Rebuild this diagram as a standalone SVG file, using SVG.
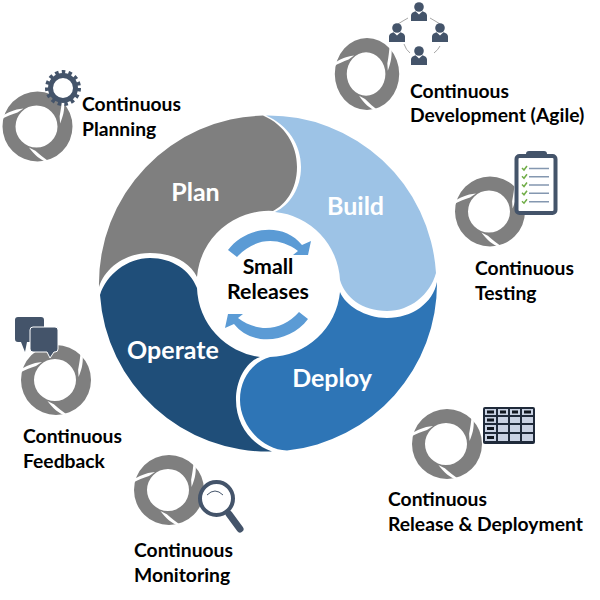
<svg xmlns="http://www.w3.org/2000/svg" width="600" height="600" viewBox="0 0 600 600">
<style>
text{font-family:"Lato","Liberation Sans",sans-serif;font-weight:700}
.lbl{font-size:19.300px;fill:#000}
.seg{font-size:25px;fill:#fff;text-anchor:middle}
.ctr{font-size:21.300px;fill:#000;text-anchor:middle}
.dk{fill:#44546a}
</style>
<defs>
<g id="ring">
<path fill="#7f7f7f" fill-rule="evenodd" d="M-35 0A35 35 0 1 1 35 0A35 35 0 1 1-35 0ZM-22 0A21 21 0 1 0 20 0A21 21 0 1 0-22 0Z"/>
<g id="slit"><path fill="#fff" d="M-36-10C-30-14-24-17-14-18L-20-14C-26-12-31-10-36-7.500Z"/></g>
<use href="#slit" transform="rotate(120)"/>
<use href="#slit" transform="rotate(240)"/>
</g>
<g id="person" class="dk">
<circle cx="0" cy="-6" r="4.800"/>
<path d="M-8 8V2.500C-8 0-6-1-3.500-1.800L0 1.500L3.500-1.800C6-1 8 0 8 2.500V8Z"/>
</g>
<path id="swoosh" fill="#5b9bd5" d="M228 250C246 226 284 222 302 245L311 241L308 255L293 255L298 251C278 236 254 238 237 257Z"/>
</defs>
<g id="connectors"/>
<g id="wheel">
<g id="plan"><path fill="#7f7f7f" d="M99 287A168 168 0 0 1 263 115.600C285 125 297 145 297 167C297 190 285 205 273 211A72 72 0 0 0 197 277C190 262 172 253 150 253C125 253 105 268 99 287Z"/><text class="seg" x="195.500" y="201">Plan</text></g>
<g id="build"><path fill="#9dc3e6" d="M266 115.500A168 168 0 0 1 436 273C430 295 410 311 387 311C362 311 345 297 340 280A72 72 0 0 0 275 212C290 205 301 188 301 167C301 145 288 125 266 115.500Z"/><text class="seg" x="355.500" y="215">Build</text></g>
<g id="deploy"><path fill="#2e75b6" d="M437 282A168 168 0 0 1 287 450.500C262 450 240 425 240 400C240 378 253 362 270 357A72 72 0 0 0 340 292C345 305 365 318 387 318C412 318 433 303 437 282Z"/><text class="seg" x="332" y="387">Deploy</text></g>
<g id="operate"><path fill="#1f4e79" d="M100 295C106 275 127 258 150 258C172 258 190 270 197 288A72 72 0 0 0 260 357C246 362 236 380 236 400C236 425 252 445 272 451.500A168 168 0 0 1 100 295Z"/><text class="seg" x="173" y="359">Operate</text></g>
</g>
<g id="small-releases">
<use href="#swoosh"/>
<use href="#swoosh" transform="rotate(180 268 284.500)"/>
<text class="ctr" x="268" y="274">Small</text>
<text class="ctr" x="268" y="299">Releases</text>
</g>
<g id="continuous-planning">
<use href="#ring" transform="translate(37.500 126.500)"/>
<circle cx="63" cy="88" r="12.500" fill="#fff" stroke="#44546a" stroke-width="5"/>
<circle cx="63" cy="88" r="16" fill="none" stroke="#44546a" stroke-width="4" stroke-dasharray="3.500 3.200"/>
<text class="lbl" x="82" y="110.500">Continuous</text><text class="lbl" x="82" y="135.500">Planning</text>
</g>
<g id="continuous-development">
<use href="#ring" transform="translate(367 74) scale(.92 1.030)"/>
<g fill="none" stroke="#a6a6a6" stroke-width="1">
<path d="M408 18Q401 22 398 24"/><path d="M430 18Q437 22 440 24"/><path d="M404 44Q406 50 410 53"/><path d="M434 53Q438 50 440 46"/>
</g>
<use href="#person" transform="translate(419 13)"/>
<use href="#person" transform="translate(397 34)"/>
<use href="#person" transform="translate(440 34)"/>
<use href="#person" transform="translate(419 57)"/>
<text class="lbl" x="410" y="97.500">Continuous</text><text class="lbl" x="410" y="122">Development (Agile)</text>
</g>
<g id="continuous-testing">
<use href="#ring" transform="translate(490 211.500)"/>
<rect x="516.500" y="156" width="39" height="57" rx="3" fill="#fff" stroke="#44546a" stroke-width="4"/>
<rect x="526" y="151" width="21" height="7" rx="3" class="dk"/>
<g fill="none" stroke="#8497b0" stroke-width="1.500"><path d="M529 168.500H549M529 176.800H549M529 185H549M529 193.300H549M529 201.700H549"/></g>
<g fill="none" stroke="#70ad47" stroke-width="1.500"><path d="M522 168L524 170L527 166M522 176.300L524 178.300L527 174.300M522 184.500L524 186.500L527 182.500M522 192.800L524 194.800L527 190.800M522 201.200L524 203.200L527 199.200"/></g>
<text class="lbl" x="475" y="274.500">Continuous</text><text class="lbl" x="475" y="299.500">Testing</text>
</g>
<g id="continuous-release">
<use href="#ring" transform="translate(447 444)"/>
<rect x="483" y="407" width="52" height="37" rx="2" fill="#1f2a3a"/>
<g fill="#c9d2e3">
<path d="M485 409h11v6h-11zM498 409h10v6h-10zM510 409h10v6h-10zM522 409h11v6h-11zM485 417h11v6h-11zM485 425h11v7h-11zM485 434h11v7h-11z"/>
<path d="M498 417h10v6h-10zM510 417h10v6h-10zM522 417h11v6h-11zM498 425h10v7h-10zM510 425h10v7h-10zM522 425h11v7h-11zM498 434h10v7h-10zM510 434h10v7h-10zM522 434h11v7h-11z"/>
</g>
<path fill="#10161f" d="M487 410.500h7v3h-7zM500 410.500h6v3h-6zM512 410.500h6v3h-6zM524 410.500h7v3h-7zM487 418.500h7v3h-7zM487 427h7v3h-7zM487 436h7v3h-7z"/>
<text class="lbl" x="388" y="505.500">Continuous</text><text class="lbl" x="388" y="530.500">Release &amp; Deployment</text>
</g>
<g id="continuous-monitoring">
<use href="#ring" transform="translate(169 490)"/>
<circle cx="216.500" cy="498.500" r="16.500" fill="#fff" stroke="#44546a" stroke-width="4"/>
<path d="M207 495Q215 487 223 495" fill="none" stroke="#44546a" stroke-width="1"/>
<path d="M229 514L240 529" fill="none" stroke="#44546a" stroke-width="7" stroke-linecap="round"/>
<text class="lbl" x="134" y="556.500">Continuous</text><text class="lbl" x="134" y="581.500">Monitoring</text>
</g>
<g id="continuous-feedback">
<use href="#ring" transform="translate(56 380)"/>
<path class="dk" d="M18 317H41Q44 317 44 320V339Q44 342 41 342H27L25 352L21 342H18Q15 342 15 339V320Q15 317 18 317Z"/>
<path class="dk" stroke="#fff" stroke-width="1" d="M33 327H55Q58 327 58 330V349Q58 352 55 352H54L50 358L47 352H33Q30 352 30 349V330Q30 327 33 327Z"/>
<text class="lbl" x="23" y="442.500">Continuous</text><text class="lbl" x="23" y="467.500">Feedback</text>
</g>
</svg>
